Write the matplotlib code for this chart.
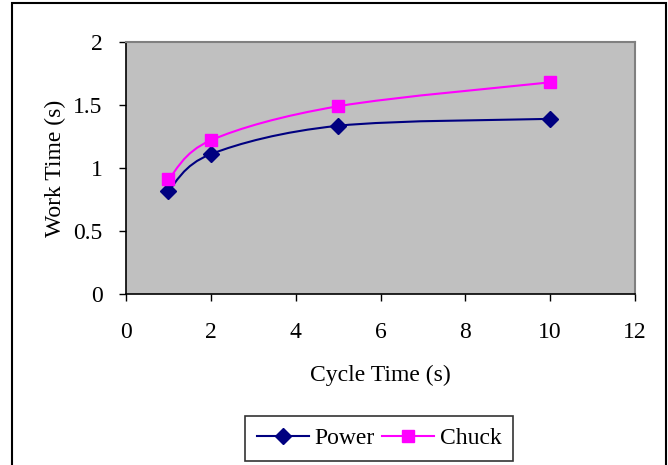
import matplotlib.pyplot as plt
from matplotlib.path import Path
from matplotlib.patches import PathPatch, Rectangle
from matplotlib.lines import Line2D

# data
cycle_time = [1, 2, 5, 10]
power = [0.82, 1.11, 1.335, 1.39]
chuck = [0.91, 1.22, 1.49, 1.68]

x_ticks = [0, 2, 4, 6, 8, 10, 12]
y_ticks = [0, 0.5, 1, 1.5, 2]

plt.rcParams['font.family'] = ['Liberation Serif', 'DejaVu Serif']
fs = 17


def smooth_path(xs, ys):
    # Excel-like smoothed line: cubic bezier segments through each point
    pts = list(zip(xs, ys))
    verts = [pts[0]]
    codes = [Path.MOVETO]
    n = len(pts)
    for i in range(n - 1):
        p0 = pts[i - 1] if i > 0 else pts[i]
        p1 = pts[i]
        p2 = pts[i + 1]
        p3 = pts[i + 2] if i + 2 < n else pts[i + 1]
        c1 = (p1[0] + (p2[0] - p0[0]) / 6, p1[1] + (p2[1] - p0[1]) / 6)
        c2 = (p2[0] - (p3[0] - p1[0]) / 6, p2[1] - (p3[1] - p1[1]) / 6)
        verts += [c1, c2, p2]
        codes += [Path.CURVE4] * 3
    return Path(verts, codes)


fig = plt.figure(figsize=(6.68, 4.65), dpi=100)
ax = fig.add_axes([126 / 668, 1 - 294 / 465, (635 - 126) / 668, (294 - 42) / 465])
ax.set_facecolor('#C0C0C0')

series = [
    ("Power", power, '#000080', 'D', 8),
    ("Chuck", chuck, '#FF00FF', 's', 8),
]
handles = []
for name, vals, col, mk, ms in series:
    ax.add_patch(PathPatch(smooth_path(cycle_time, vals), facecolor='none',
                           edgecolor=col, lw=1.5, zorder=3))
    ax.plot(cycle_time, vals, ls='none', marker=mk, ms=ms, color=col, zorder=4)
    handles.append(Line2D([], [], color=col, lw=1.5, marker=mk, ms=ms, label=name))

ax.set_xlim(0, 12)
ax.set_ylim(0, 2)
ax.set_xticks(x_ticks)
ax.set_yticks(y_ticks)
ax.set_yticklabels(['0', '0.5', '1', '1.5', '2'])
ax.tick_params(axis='x', direction='out', length=5, width=1, pad=15, labelsize=fs)
ax.tick_params(axis='y', direction='out', length=5, width=1, pad=12, labelsize=fs)

for side in ['top', 'right']:
    ax.spines[side].set_color('#808080')
    ax.spines[side].set_linewidth(1.5)
for side in ['left', 'bottom']:
    ax.spines[side].set_color('black')
    ax.spines[side].set_linewidth(1.2)

ax.set_xlabel("Cycle Time (s)", fontsize=fs, labelpad=16)
ax.set_ylabel("Work Time (s)", fontsize=fs, labelpad=5)

leg = fig.legend(handles=handles, loc='center', bbox_to_anchor=(379 / 668, 1 - 438.5 / 465),
                 ncol=2, fontsize=fs, frameon=True, fancybox=False, handlelength=2.2,
                 columnspacing=0.3, handletextpad=0.25, borderpad=0.5)
leg.get_frame().set_edgecolor('black')
leg.get_frame().set_linewidth(1.2)

# outer chart border
fig.patches.append(Rectangle((12 / 668, -0.05), (666 - 12) / 668, 1 - 3 / 465 + 0.05,
                             transform=fig.transFigure, fill=False, ec='black', lw=1.5))

fig.savefig('out.png', dpi=100)
